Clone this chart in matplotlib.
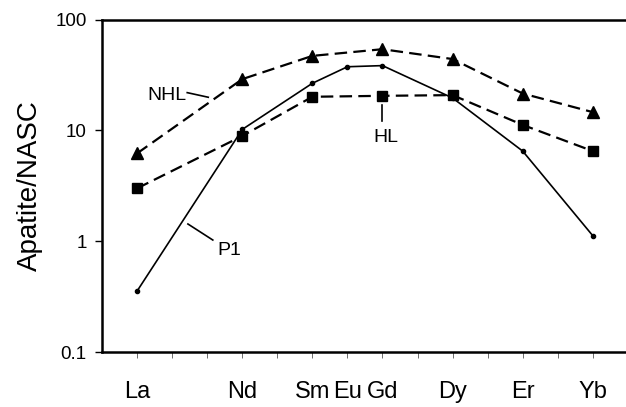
import matplotlib
matplotlib.use("Agg")
import matplotlib.pyplot as plt

plt.rcParams['font.family'] = ['Liberation Sans', 'DejaVu Sans']
plt.rcParams['lines.scale_dashes'] = False

# atomic numbers used as x positions
ticks_z = list(range(57, 71))
tick_names = {57: "La", 60: "Nd", 62: "Sm", 63: "Eu", 64: "Gd", 66: "Dy", 68: "Er", 70: "Yb"}

# NHL series (triangles)
nhl_z = [57, 60, 62, 64, 66, 68, 70]
nhl_val = [6.2, 29.0, 47.0, 54.0, 44.0, 21.5, 14.6]

# HL series (squares)
hl_z = [57, 60, 62, 64, 66, 68, 70]
hl_val = [3.0, 8.9, 20.1, 20.5, 20.8, 11.2, 6.5]

# P1 series (small dots)
p1_z = [57, 60, 62, 63, 64, 66, 68, 70]
p1_val = [0.355, 10.2, 26.6, 37.5, 38.4, 19.6, 6.5, 1.12]

fig = plt.figure(figsize=(6.26, 4.07), dpi=100)
ax = fig.add_axes([0.163, 0.135, 0.84, 0.817])

ax.plot(nhl_z, nhl_val, color='black', lw=1.6, dashes=(9, 4.5), marker='^', ms=9)
ax.plot(hl_z, hl_val, color='black', lw=1.6, dashes=(9, 4.5), marker='s', ms=7.5)
ax.plot(p1_z, p1_val, color='black', lw=1.2, marker='o', ms=3)

#labels with leader lines
ax.text(57.86, 20.7, "NHL", fontsize=14, ha='center', va='center')
ax.plot([58.43, 59.03], [21.9, 19.9], color='black', lw=1.2)
ax.text(64.09, 8.63, "HL", fontsize=14, ha='center', va='center')
ax.plot([64.0, 64.0], [16.9, 12.2], color='black', lw=1.2)
ax.text(59.64, 0.833, "P1", fontsize=14, ha='center', va='center')
ax.plot([58.45, 59.16], [1.43, 1.025], color='black', lw=1.2)

ax.set_yscale('log')
ax.set_ylim(0.1, 100)
ax.set_xlim(56, 71)
ax.set_yticks([0.1, 1, 10, 100])
ax.set_yticklabels(["0.1", "1", "10", "100"])
ax.minorticks_off()
ax.set_xticks(ticks_z)
ax.set_xticklabels([tick_names.get(z, "") for z in ticks_z])

ax.tick_params(axis='y', direction='out', length=5, width=1, labelsize=13.5, pad=6)
ax.tick_params(axis='x', direction='out', length=4, width=0.6, labelsize=17, pad=17, color='#555555')

for s in ['left', 'top', 'bottom']:
    ax.spines[s].set_linewidth(1.8)
ax.spines['right'].set_visible(False)

ax.set_ylabel("Apatite/NASC", fontsize=20, labelpad=9)

fig.savefig("out.png", dpi=100)
